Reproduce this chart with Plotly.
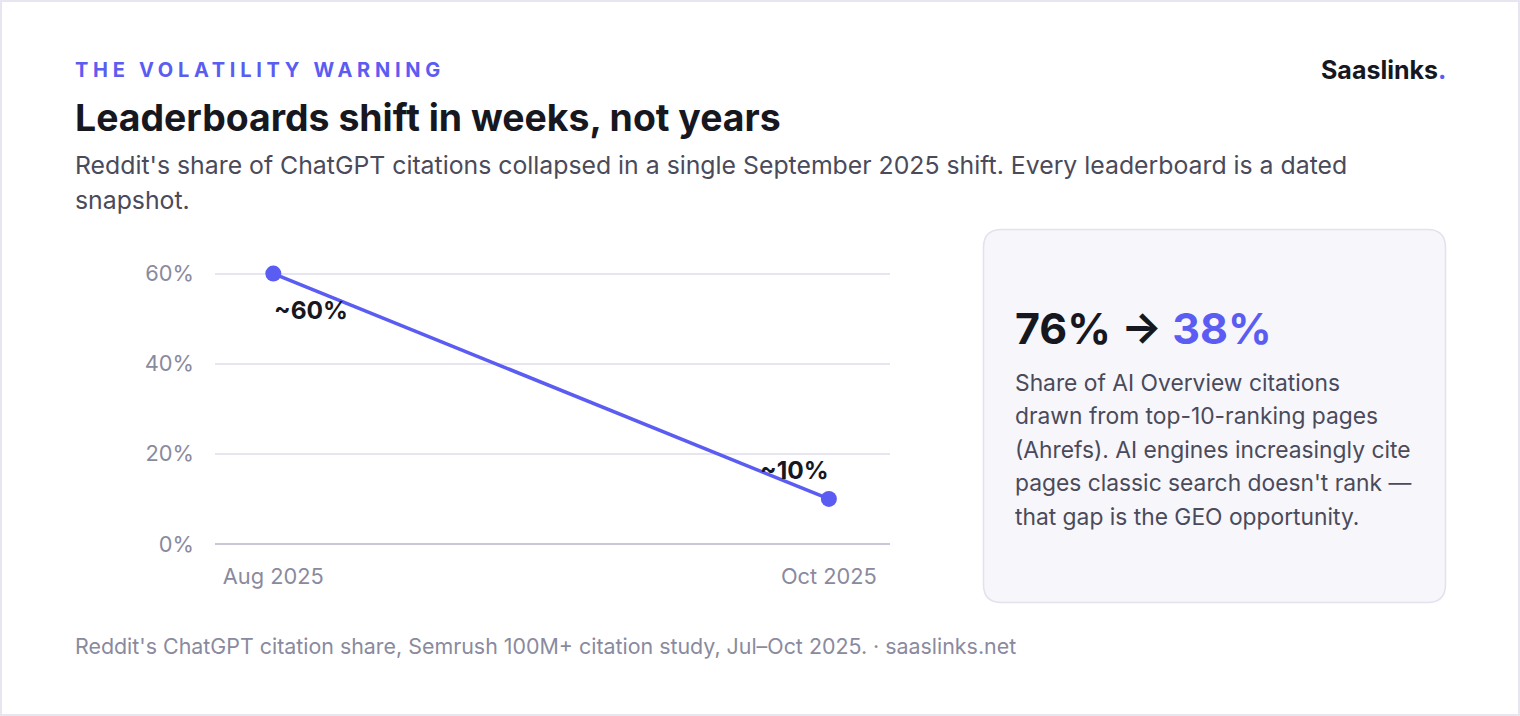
import plotly.graph_objects as go

# ---- data ----
months = ["Aug 2025", "Oct 2025"]
reddit_share = [60, 10]
point_labels = ["~60%", "~10%"]
y_ticks = [0, 20, 40, 60]
y_tick_labels = ["0%", "20%", "40%", "60%"]

W, H = 1520, 716
L, R, T, B = 215, 630, 251, 172
PW, PH = W - L - R, H - T - B

def px(x):
    return (x - L) / PW

def py(y):
    return (H - B - y) / PH

INDIGO = "#5b5cf2"
DARK = "#17171f"
MUTED = "#8a8a9e"
BODY = "#4a4a5a"
FONT = "Inter"

fig = go.Figure()
fig.add_trace(go.Scatter(
    x=months, y=reddit_share, mode="lines+markers",
    line=dict(color=INDIGO, width=3.5),
    marker=dict(color=INDIGO, size=16),
    hoverinfo="skip", showlegend=False,
))

shifts = [(38, -36), (-34, 29)]
annotations = []
for m, v, lab, (dx, dy) in zip(months, reddit_share, point_labels, shifts):
    annotations.append(dict(x=m, y=v, xref="x", yref="y", text=lab, showarrow=False,
                            xshift=dx, yshift=dy,
                            font=dict(family=FONT, size=24.5, color=DARK, weight=700)))

def txt(x, y, text, size, color, weight=400, xanchor="left"):
    annotations.append(dict(x=px(x - 2 if xanchor == "left" else x + 2), y=py(y),
                            xref="paper", yref="paper", text=text,
                            showarrow=False, xanchor=xanchor, yanchor="middle",
                            font=dict(family=FONT, size=size, color=color, weight=weight)))

txt(75, 70, "THE VOLATILITY WARNING", 20, INDIGO, 700)
txt(75, 118, "Leaderboards shift in weeks, not years", 37.4, DARK, 700)
txt(75, 165, "Reddit's share of ChatGPT citations collapsed in a single September 2025 shift. Every leaderboard is a dated", 24.8, BODY)
txt(75, 200, "snapshot.", 24.8, BODY)
txt(1446, 70, "Saaslinks<span style='color:" + INDIGO + "'>.</span>", 25, DARK, 700, xanchor="right")
txt(75, 646, "Reddit's ChatGPT citation share, Semrush 100M+ citation study, Jul–Oct 2025. · saaslinks.net", 21.4, MUTED)

txt(1015, 328, "76% → <span style='color:" + INDIGO + "'>38%</span>", 43, DARK, 700)
card_lines = [
    "Share of AI Overview citations",
    "drawn from top-10-ranking pages",
    "(Ahrefs). AI engines increasingly cite",
    "pages classic search doesn't rank —",
    "that gap is the GEO opportunity.",
]
for i, line in enumerate(card_lines):
    txt(1015, 382 + i * 33.5, line, 22.8, BODY)

# card with rounded corners
x0, x1, y0, y1, r = 983.5, 1445.5, 229.5, 602.5, 18
path = (f"M {px(x0+r)},{py(y0)} L {px(x1-r)},{py(y0)} Q {px(x1)},{py(y0)} {px(x1)},{py(y0+r)} "
        f"L {px(x1)},{py(y1-r)} Q {px(x1)},{py(y1)} {px(x1-r)},{py(y1)} "
        f"L {px(x0+r)},{py(y1)} Q {px(x0)},{py(y1)} {px(x0)},{py(y1-r)} "
        f"L {px(x0)},{py(y0+r)} Q {px(x0)},{py(y0)} {px(x0+r)},{py(y0)} Z")
shapes = [
    dict(type="path", path=path, xref="paper", yref="paper",
         fillcolor="#f6f6fb", line=dict(color="#e2e1ee", width=1.5), layer="below"),
    dict(type="rect", xref="paper", yref="paper", x0=px(1), x1=px(W - 1), y0=py(H - 1), y1=py(1),
         line=dict(color="#e6e5f0", width=2), fillcolor="rgba(0,0,0,0)"),
]

fig.update_layout(
    width=W, height=H,
    margin=dict(l=L, r=R, t=T, b=B),
    paper_bgcolor="white", plot_bgcolor="white",
    font=dict(family=FONT),
    annotations=annotations, shapes=shapes,
    xaxis=dict(type="category", range=[-0.105, 1.11], showgrid=False, zeroline=False,
               showline=False, ticks="", ticklabelstandoff=17,
               tickfont=dict(family=FONT, size=21.8, color=MUTED)),
    yaxis=dict(range=[0, 65], tickvals=y_ticks, ticktext=y_tick_labels,
               showgrid=True, gridcolor="#e6e5f0", gridwidth=1.5,
               zeroline=True, zerolinecolor="#c9c8d8", zerolinewidth=1.5,
               showline=False, ticks="", ticklabelstandoff=20,
               tickfont=dict(family=FONT, size=21.8, color=MUTED)),
)

post = """
var gd = document.getElementById('{plot_id}');
function fixLS(){
  gd.querySelectorAll('text.annotation-text').forEach(function(t){
    if(t.textContent==='THE VOLATILITY WARNING' && !t.dataset.ls){
      var b0=t.getBBox();
      t.style.letterSpacing='0.235em';
      var b1=t.getBBox();
      t.setAttribute('transform','translate('+(b0.x-b1.x)+',0)');
      t.dataset.ls='1';
    }
  });
}
fixLS();
"""
fig.write_html("out.html", post_script=post)
